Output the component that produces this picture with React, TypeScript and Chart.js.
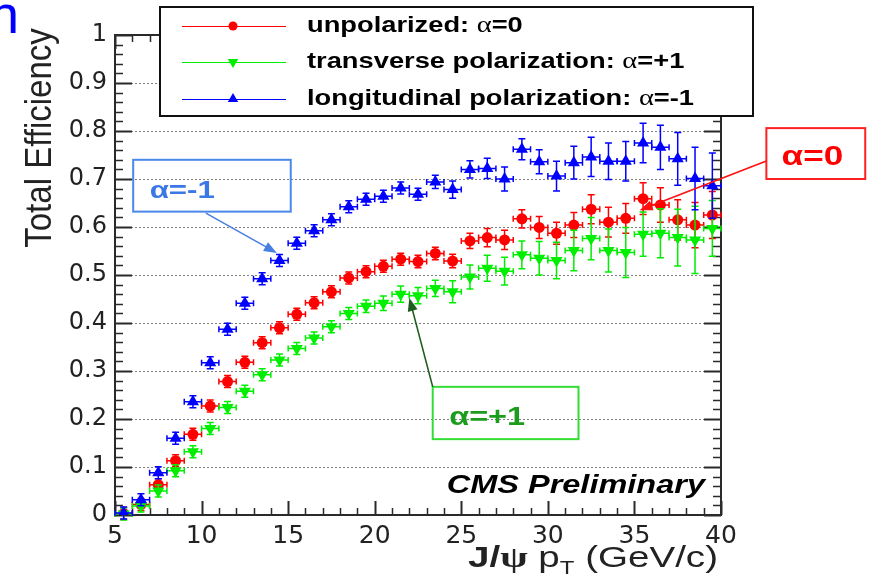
import React, { useEffect, useRef } from 'react';
import { Chart, registerables } from 'chart.js';

Chart.register(...registerables);

// J/psi pT bin centres (GeV/c), 1 GeV wide bins
const ptBins = [
  5.5, 6.5, 7.5, 8.5, 9.5, 10.5, 11.5, 12.5, 13.5, 14.5, 15.5, 16.5, 17.5, 18.5, 19.5, 20.5, 21.5, 22.5,
  23.5, 24.5, 25.5, 26.5, 27.5, 28.5, 29.5, 30.5, 31.5, 32.5, 33.5, 34.5, 35.5, 36.5, 37.5, 38.5, 39.5,
];
const binHalfWidth = 0.5;

// unpolarized: alpha = 0
const unpolarized = [
  0.003, 0.022, 0.063, 0.113, 0.168, 0.227, 0.278, 0.318, 0.359, 0.39, 0.418, 0.442, 0.465, 0.494, 0.507,
  0.518, 0.533, 0.528, 0.545, 0.529, 0.571, 0.578, 0.573, 0.617, 0.599, 0.587, 0.604, 0.637, 0.61, 0.618,
  0.659, 0.646, 0.615, 0.604, 0.625,
];
const unpolarizedErr = [
  0.002, 0.003, 0.004, 0.004, 0.005, 0.005, 0.006, 0.006, 0.007, 0.007, 0.008, 0.008, 0.009, 0.009, 0.01,
  0.011, 0.012, 0.013, 0.013, 0.014, 0.016, 0.019, 0.02, 0.019, 0.023, 0.023, 0.026, 0.03, 0.031, 0.031,
  0.033, 0.036, 0.042, 0.047, 0.049,
];

// transverse polarization: alpha = +1
const transverse = [
  0.002, 0.019, 0.05, 0.092, 0.132, 0.18, 0.224, 0.258, 0.292, 0.323, 0.347, 0.369, 0.392, 0.42, 0.435,
  0.441, 0.46, 0.457, 0.472, 0.465, 0.496, 0.514, 0.508, 0.542, 0.535, 0.53, 0.551, 0.576, 0.551, 0.547,
  0.585, 0.587, 0.578, 0.573, 0.597,
];
const transverseErr = [
  0.002, 0.003, 0.003, 0.004, 0.005, 0.005, 0.006, 0.007, 0.007, 0.008, 0.009, 0.01, 0.011, 0.012, 0.013,
  0.015, 0.017, 0.017, 0.017, 0.023, 0.025, 0.027, 0.029, 0.029, 0.035, 0.038, 0.042, 0.044, 0.045, 0.052,
  0.046, 0.051, 0.059, 0.07, 0.058,
];

// longitudinal polarization: alpha = -1
const longitudinal = [
  0.004, 0.032, 0.088, 0.16, 0.236, 0.317, 0.387, 0.441, 0.492, 0.53, 0.566, 0.592, 0.615, 0.642, 0.658,
  0.664, 0.681, 0.668, 0.694, 0.678, 0.72, 0.722, 0.7, 0.762, 0.736, 0.706, 0.734, 0.746, 0.737, 0.737,
  0.775, 0.766, 0.742, 0.701, 0.686,
];
const longitudinalErr = [
  0.002, 0.003, 0.004, 0.004, 0.005, 0.005, 0.006, 0.006, 0.007, 0.007, 0.008, 0.008, 0.009, 0.009, 0.01,
  0.01, 0.011, 0.012, 0.014, 0.018, 0.018, 0.021, 0.025, 0.022, 0.025, 0.031, 0.034, 0.041, 0.038, 0.041,
  0.041, 0.046, 0.055, 0.065, 0.068,
];

const xRange = [5, 40];
const yRange = [0, 1];
const xMajorStep = 5;
const xMinorStep = 1;
const yMajorStep = 0.1;
const yMinorStep = 0.02;

const RED = '#ff0000';
const GREEN = '#00ee00';
const BLUE = '#0000ff';

// horizontal stretch applied to the hand-drawn text
const SX = 1.3;

type Part = { text: string; font: string; dy?: number };

function drawParts(
  ctx: CanvasRenderingContext2D,
  parts: Part[],
  x: number,
  y: number,
  color: string,
  sx: number,
  align: 'left' | 'right' | 'center',
) {
  ctx.save();
  ctx.fillStyle = color;
  ctx.textBaseline = 'alphabetic';
  ctx.textAlign = 'left';
  const widths = parts.map((p) => {
    ctx.font = p.font;
    return ctx.measureText(p.text).width * sx;
  });
  const total = widths.reduce((a, b) => a + b, 0);
  let cx = align === 'left' ? x : align === 'right' ? x - total : x - total / 2;
  parts.forEach((p, i) => {
    ctx.font = p.font;
    ctx.save();
    ctx.translate(cx, y + (p.dy || 0));
    ctx.scale(sx, 1);
    ctx.fillText(p.text, 0, 0);
    ctx.restore();
    cx += widths[i];
  });
  ctx.restore();
}

function drawArrow(
  ctx: CanvasRenderingContext2D,
  x1: number,
  y1: number,
  x2: number,
  y2: number,
  color: string,
  width: number,
) {
  const ang = Math.atan2(y2 - y1, x2 - x1);
  const head = 13;
  const half = 5;
  ctx.save();
  ctx.strokeStyle = color;
  ctx.fillStyle = color;
  ctx.lineWidth = width;
  ctx.beginPath();
  ctx.moveTo(x1, y1);
  ctx.lineTo(x2 - Math.cos(ang) * head * 0.8, y2 - Math.sin(ang) * head * 0.8);
  ctx.stroke();
  ctx.beginPath();
  ctx.moveTo(x2, y2);
  ctx.lineTo(
    x2 - Math.cos(ang) * head + Math.sin(ang) * half,
    y2 - Math.sin(ang) * head - Math.cos(ang) * half,
  );
  ctx.lineTo(
    x2 - Math.cos(ang) * head - Math.sin(ang) * half,
    y2 - Math.sin(ang) * head + Math.cos(ang) * half,
  );
  ctx.closePath();
  ctx.fill();
  ctx.restore();
}

function drawMarker(ctx: CanvasRenderingContext2D, kind: string, x: number, y: number, r: number, color: string) {
  ctx.save();
  ctx.fillStyle = color;
  ctx.beginPath();
  if (kind === 'circle') {
    ctx.arc(x, y, r, 0, Math.PI * 2);
  } else {
    const dir = kind === 'down' ? -1 : 1;
    ctx.moveTo(x, y - dir * r);
    ctx.lineTo(x + r * 0.866, y + dir * r * 0.5);
    ctx.lineTo(x - r * 0.866, y + dir * r * 0.5);
    ctx.closePath();
  }
  ctx.fill();
  ctx.restore();
}

// ROOT-style frame: dotted grid, inward ticks on all four sides
const framePlugin = {
  id: 'rootFrame',
  beforeDatasetsDraw(chart: any) {
    const { ctx, chartArea: a, scales } = chart;
    const xs = scales.x;
    const ys = scales.y;
    ctx.save();
    // dotted horizontal grid at the major y ticks
    ctx.strokeStyle = '#808080';
    ctx.lineWidth = 1;
    ctx.setLineDash([2, 2]);
    ys.ticks.forEach((t: any) => {
      if (t.value <= yRange[0] || t.value >= yRange[1]) return;
      const py = Math.round(ys.getPixelForValue(t.value)) + 0.5;
      ctx.beginPath();
      ctx.moveTo(a.left, py);
      ctx.lineTo(a.right, py);
      ctx.stroke();
    });
    ctx.setLineDash([]);
    ctx.strokeStyle = '#2a2a2a';
    // y ticks
    const nY = Math.round((yRange[1] - yRange[0]) / yMinorStep);
    for (let i = 0; i <= nY; i++) {
      const v = yRange[0] + i * yMinorStep;
      const major = i % Math.round(yMajorStep / yMinorStep) === 0;
      const len = major ? 17 : 8;
      const py = Math.round(ys.getPixelForValue(v)) + 0.5;
      ctx.lineWidth = major ? 2 : 1.5;
      ctx.beginPath();
      ctx.moveTo(a.left, py);
      ctx.lineTo(a.left + len, py);
      ctx.moveTo(a.right, py);
      ctx.lineTo(a.right - len, py);
      ctx.stroke();
    }
    // x ticks
    const nX = Math.round((xRange[1] - xRange[0]) / xMinorStep);
    for (let i = 0; i <= nX; i++) {
      const v = xRange[0] + i * xMinorStep;
      const major = i % Math.round(xMajorStep / xMinorStep) === 0;
      const len = major ? 14 : 7;
      const px = Math.round(xs.getPixelForValue(v)) + 0.5;
      ctx.lineWidth = major ? 2 : 1.5;
      ctx.beginPath();
      ctx.moveTo(px, a.bottom);
      ctx.lineTo(px, a.bottom - len);
      ctx.moveTo(px, a.top);
      ctx.lineTo(px, a.top + len);
      ctx.stroke();
    }
    // frame
    ctx.lineWidth = 2;
    ctx.strokeRect(a.left, a.top, a.right - a.left, a.bottom - a.top);
    ctx.restore();
  },
};

// x and y error bars, drawn under each dataset's markers
const errorBarPlugin = {
  id: 'errorBars',
  beforeDatasetDraw(chart: any, args: any) {
    const ds = chart.data.datasets[args.index];
    const errs: number[] | undefined = ds.yErrors;
    if (!errs) return;
    const { ctx, scales } = chart;
    const xs = scales.x;
    const ys = scales.y;
    ctx.save();
    ctx.strokeStyle = ds.backgroundColor;
    ctx.lineWidth = 1.5;
    ds.data.forEach((p: any, i: number) => {
      const px = xs.getPixelForValue(p.x);
      const py = ys.getPixelForValue(p.y);
      const xl = xs.getPixelForValue(p.x - binHalfWidth);
      const xr = xs.getPixelForValue(p.x + binHalfWidth);
      const yt = ys.getPixelForValue(p.y + errs[i]);
      const yb = ys.getPixelForValue(p.y - errs[i]);
      const cap = 3.5;
      ctx.beginPath();
      // horizontal bar with end ticks
      ctx.moveTo(xl, py);
      ctx.lineTo(xr, py);
      ctx.moveTo(xl, py - 3);
      ctx.lineTo(xl, py + 3);
      ctx.moveTo(xr, py - 3);
      ctx.lineTo(xr, py + 3);
      // vertical bar with caps
      ctx.moveTo(px, Math.min(yt, py - 6));
      ctx.lineTo(px, Math.max(yb, py + 6));
      ctx.moveTo(px - cap, Math.min(yt, py - 6));
      ctx.lineTo(px + cap, Math.min(yt, py - 6));
      ctx.moveTo(px - cap, Math.max(yb, py + 6));
      ctx.lineTo(px + cap, Math.max(yb, py + 6));
      ctx.stroke();
    });
    ctx.restore();
  },
};

const legendEntries = [
  { name: 'unpolarized: ', alpha: '=0', color: RED, marker: 'circle', r: 4.5 },
  { name: 'transverse polarization: ', alpha: '=+1', color: GREEN, marker: 'down', r: 6 },
  { name: 'longitudinal polarization: ', alpha: '=-1', color: BLUE, marker: 'up', r: 6 },
];

// boxed labels with arrows, positions in data units
const notes = [
  {
    text: '\u03b1=-1', color: '#3a78e6', box: '#4a88ea', arrow: '#4a7fe2', font: 'bold 24px "Liberation Sans", Arial',
    box0: [6.05, 0.74], box1: [15.15, 0.632], textAt: [7.0, 0.661], from: [10.25, 0.629], to: [14.35, 0.546],
  },
  {
    text: '\u03b1=+1', color: '#1c9c1c', box: '#33dd33', arrow: '#1d5e1d', font: 'bold 25px "Liberation Sans", Arial',
    box0: [23.35, 0.267], box1: [31.77, 0.158], textAt: [24.3, 0.188], from: [23.35, 0.267], to: [22.0, 0.452],
  },
  {
    text: '\u03b1=0', color: '#ff0000', box: '#ff2020', arrow: '#ff1010', font: 'bold 27px "Liberation Sans", Arial',
    box0: [42.62, 0.806], box1: [48.33, 0.7], textAt: [43.5, 0.729], from: [42.62, 0.7375], to: [35.3, 0.635],
  },
];

const overlayPlugin = {
  id: 'overlay',
  afterDatasetsDraw(chart: any) {
    const { ctx, scales, chartArea: a } = chart;
    const xs = scales.x;
    const ys = scales.y;
    const X = (v: number) => xs.getPixelForValue(v);
    const Y = (v: number) => ys.getPixelForValue(v);

    // annotations
    notes.forEach((n) => {
      ctx.save();
      ctx.strokeStyle = n.box;
      ctx.lineWidth = 2;
      ctx.strokeRect(X(n.box0[0]), Y(n.box0[1]), X(n.box1[0]) - X(n.box0[0]), Y(n.box1[1]) - Y(n.box0[1]));
      ctx.restore();
      drawArrow(ctx, X(n.from[0]), Y(n.from[1]), X(n.to[0]), Y(n.to[1]), n.arrow, 1.6);
      drawParts(ctx, [{ text: n.text, font: n.font }], X(n.textAt[0]), Y(n.textAt[1]), n.color, SX, 'left');
    });

    // CMS Preliminary
    drawParts(
      ctx,
      [{ text: 'CMS Preliminary', font: 'italic bold 25px "Liberation Sans", Arial' }],
      a.right - 16,
      a.bottom - 22,
      '#000',
      SX,
      'right',
    );

    // legend box
    const lx = 160, ly = 7, lw = 593, lh = 109;
    ctx.save();
    ctx.fillStyle = '#fff';
    ctx.fillRect(lx, ly, lw, lh);
    ctx.strokeStyle = '#111';
    ctx.lineWidth = 2;
    ctx.strokeRect(lx, ly, lw, lh);
    ctx.restore();
    const rows = [26, 62, 99];
    legendEntries.forEach((e, i) => {
      const ry = rows[i];
      ctx.save();
      ctx.strokeStyle = e.color;
      ctx.lineWidth = 1.2;
      ctx.beginPath();
      ctx.moveTo(182, ry + 0.5);
      ctx.lineTo(286, ry + 0.5);
      ctx.stroke();
      ctx.restore();
      drawMarker(ctx, e.marker, 233, ry, e.r, e.color);
      drawParts(
        ctx,
        [
          { text: e.name, font: 'bold 22px "Liberation Sans", Arial' },
          { text: '\u03b1', font: '23px "Liberation Serif", serif' },
          { text: e.alpha, font: 'bold 22px "Liberation Sans", Arial' },
        ],
        307,
        ry + 6,
        '#000',
        1.24,
        'left',
      );
    });

    // y axis title
    ctx.save();
    ctx.translate(51, 138);
    ctx.scale(1.1, 1);
    ctx.rotate(-Math.PI / 2);
    ctx.fillStyle = '#222';
    ctx.font = '33px "Liberation Sans", Arial';
    ctx.textAlign = 'center';
    ctx.textBaseline = 'alphabetic';
    ctx.fillText('Total Efficiency', 0, 0);
    ctx.restore();

    // x axis title
    drawParts(
      ctx,
      [
        { text: 'J/', font: 'bold 29px "Liberation Sans", Arial' },
        { text: '\u03c8', font: 'bold 30px "Liberation Serif", serif' },
        { text: ' p', font: '29px "Liberation Sans", Arial' },
        { text: 'T', font: '18px "Liberation Sans", Arial', dy: 7 },
        { text: ' (GeV/c)', font: '29px "Liberation Sans", Arial' },
      ],
      718,
      567,
      '#222',
      1.33,
      'right',
    );

    // cut-off title glyph at the top-left corner
    ctx.save();
    ctx.fillStyle = '#0000ff';
    ctx.font = '54px "Liberation Sans", Arial';
    ctx.textBaseline = 'alphabetic';
    ctx.fillText('n', -11, 33);
    ctx.restore();
  },
};

export default function App() {
  const canvasRef = useRef<HTMLCanvasElement | null>(null);

  useEffect(() => {
    document.body.style.margin = '0';
    const canvas = canvasRef.current;
    if (!canvas) return;
    const pts = (vals: number[]) => ptBins.map((x, i) => ({ x, y: vals[i] }));
    const chart = new Chart(canvas, {
      type: 'scatter',
      data: {
        datasets: [
          {
            label: 'longitudinal polarization: \u03b1=-1',
            data: pts(longitudinal),
            yErrors: longitudinalErr,
            pointStyle: 'triangle',
            pointRadius: 7,
            pointBorderWidth: 0,
            backgroundColor: BLUE,
            borderColor: BLUE,
            order: 0,
          } as any,
          {
            label: 'transverse polarization: \u03b1=+1',
            data: pts(transverse),
            yErrors: transverseErr,
            pointStyle: 'triangle',
            rotation: 180,
            pointRadius: 7,
            pointBorderWidth: 0,
            backgroundColor: GREEN,
            borderColor: GREEN,
            order: 1,
          } as any,
          {
            label: 'unpolarized: \u03b1=0',
            data: pts(unpolarized),
            yErrors: unpolarizedErr,
            pointStyle: 'circle',
            pointRadius: 5.5,
            pointBorderWidth: 0,
            backgroundColor: RED,
            borderColor: RED,
            order: 2,
          } as any,
        ],
      },
      options: {
        animation: false,
        responsive: false,
        devicePixelRatio: 1,
        events: [],
        layout: { padding: { left: 0, top: 35, right: 153, bottom: 0 } },
        plugins: { legend: { display: false }, tooltip: { enabled: false } },
        scales: {
          x: {
            type: 'linear',
            min: xRange[0],
            max: xRange[1],
            ticks: {
              stepSize: xMajorStep,
              padding: 6,
              color: '#222',
              font: { family: '"DejaVu Sans", sans-serif', size: 25 },
              maxRotation: 0,
            },
            grid: { display: false, drawTicks: false },
            border: { display: false },
            afterFit: (s: any) => {
              s.height = 70;
            },
          },
          y: {
            type: 'linear',
            min: yRange[0],
            max: yRange[1],
            ticks: {
              stepSize: yMajorStep,
              padding: 8,
              color: '#222',
              font: { family: '"DejaVu Sans", sans-serif', size: 24 },
              callback: (v: any) => String(Number(Number(v).toFixed(1))),
            },
            grid: { display: false, drawTicks: false },
            border: { display: false },
            afterFit: (s: any) => {
              s.width = 115;
            },
          },
        },
      },
      plugins: [framePlugin, errorBarPlugin, overlayPlugin],
    });
    return () => chart.destroy();
  }, []);

  return (
    <div style={{ width: 874, height: 585, background: '#fff' }}>
      <canvas ref={canvasRef} width={874} height={585} style={{ display: 'block', width: 874, height: 585 }} />
    </div>
  );
}
